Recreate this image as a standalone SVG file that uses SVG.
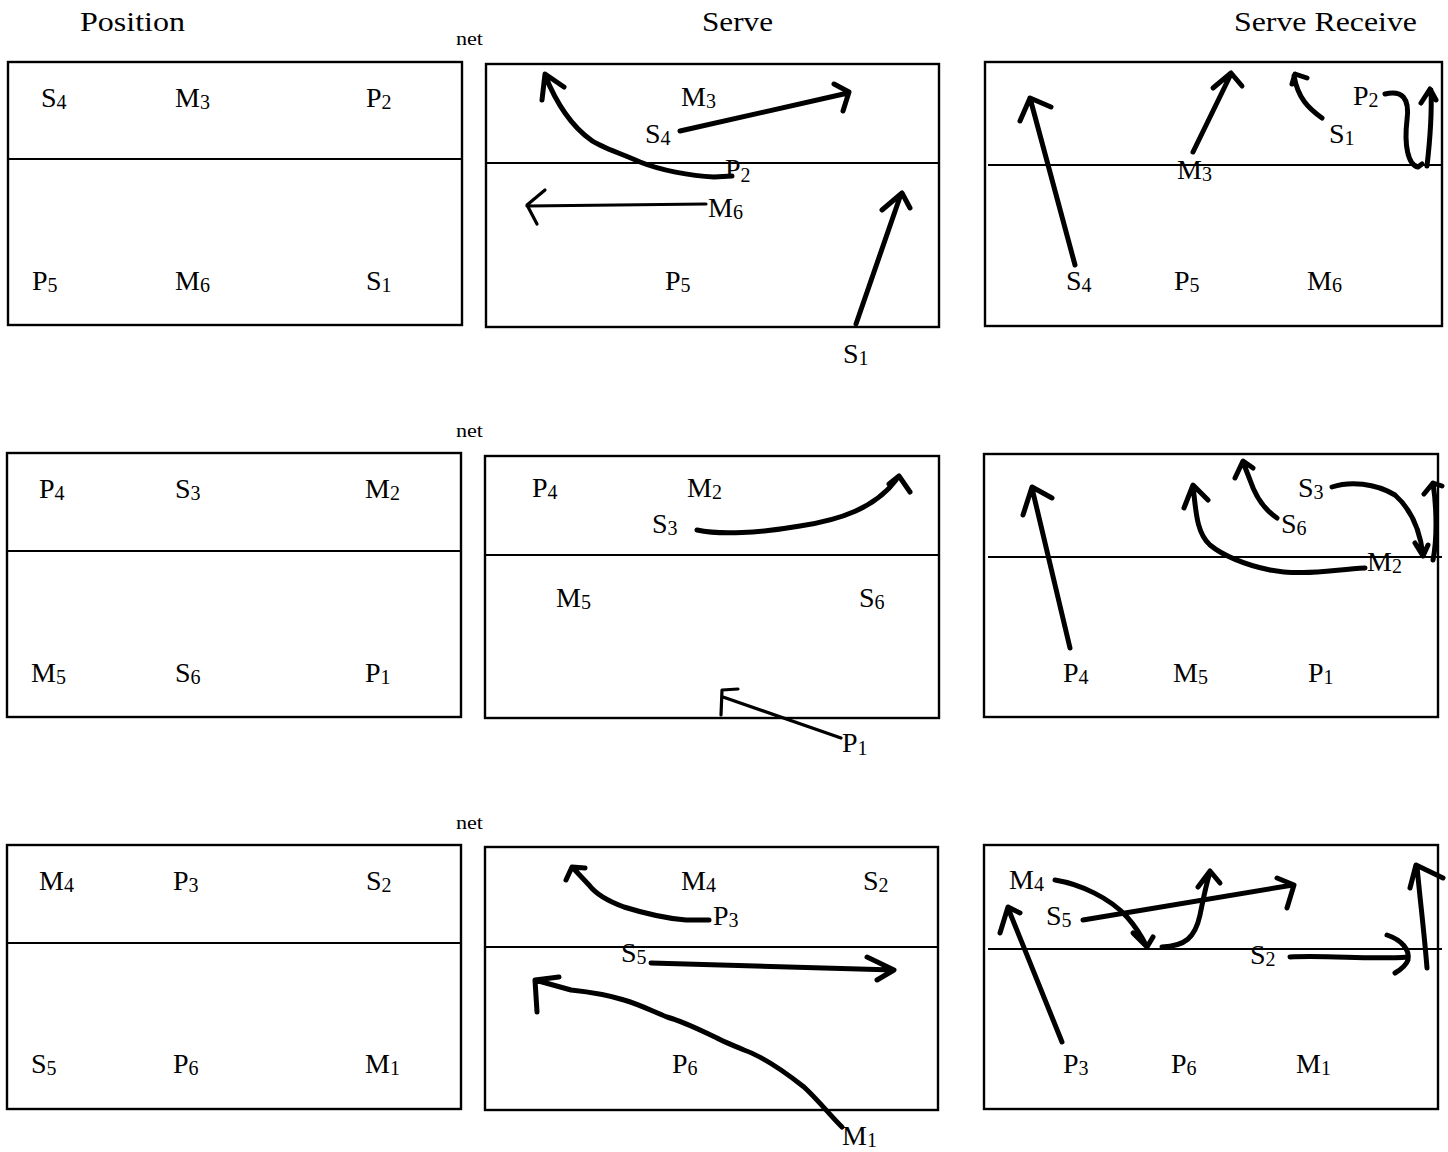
<svg xmlns="http://www.w3.org/2000/svg" width="1448" height="1152" viewBox="0 0 1448 1152">
<style>
.court{fill:none;stroke:#000;stroke-width:2.4}
.net{stroke:#000;stroke-width:2}
.t{font-family:"Liberation Serif","Times New Roman",serif;font-size:28px;fill:#000}
.sub{font-size:20px}
.title{font-family:"Liberation Serif","Times New Roman",serif;font-size:28px;fill:#000}
.nl{font-family:"Liberation Serif","Times New Roman",serif;font-size:19px;fill:#000}
.a{fill:none;stroke:#000;stroke-width:5;stroke-linecap:round;stroke-linejoin:round}
.a2{fill:none;stroke:#000;stroke-width:3.2;stroke-linecap:round;stroke-linejoin:round}
</style>
<rect width="1448" height="1152" fill="#fff"/>
<g id="titles">
<text class="title" x="80" y="31" textLength="105" lengthAdjust="spacingAndGlyphs">Position</text>
<text class="title" x="702" y="31" textLength="71" lengthAdjust="spacingAndGlyphs">Serve</text>
<text class="title" x="1234" y="31" textLength="183" lengthAdjust="spacingAndGlyphs">Serve Receive</text>
<text class="nl" x="456" y="45" textLength="27" lengthAdjust="spacingAndGlyphs">net</text>
<text class="nl" x="456" y="437" textLength="27" lengthAdjust="spacingAndGlyphs">net</text>
<text class="nl" x="456" y="829" textLength="27" lengthAdjust="spacingAndGlyphs">net</text>
</g>

<!-- Row 1 -->
<g id="pos1">
<rect class="court" x="8" y="62" width="454" height="263"/>
<line class="net" x1="8" y1="159" x2="462" y2="159"/>
<text class="t" x="41" y="107">S<tspan class="sub" dy="2">4</tspan></text>
<text class="t" x="175" y="107">M<tspan class="sub" dy="2">3</tspan></text>
<text class="t" x="366" y="107">P<tspan class="sub" dy="2">2</tspan></text>
<text class="t" x="32" y="290">P<tspan class="sub" dy="2">5</tspan></text>
<text class="t" x="175" y="290">M<tspan class="sub" dy="2">6</tspan></text>
<text class="t" x="366" y="290">S<tspan class="sub" dy="2">1</tspan></text>
</g>
<g id="serve1">
<rect class="court" x="486" y="64" width="453" height="263"/>
<line class="net" x1="486" y1="163" x2="939" y2="163"/>
<text class="t" x="681" y="106">M<tspan class="sub" dy="2">3</tspan></text>
<text class="t" x="645" y="143">S<tspan class="sub" dy="2">4</tspan></text>
<text class="t" x="725" y="178">P<tspan class="sub" dy="4">2</tspan></text>
<text class="t" x="708" y="217">M<tspan class="sub" dy="2">6</tspan></text>
<text class="t" x="665" y="290">P<tspan class="sub" dy="2">5</tspan></text>
<text class="t" x="843" y="363">S<tspan class="sub" dy="2">1</tspan></text>
</g>
<g id="recv1">
<rect class="court" x="985" y="62" width="457" height="264"/>
<line class="net" x1="988" y1="165" x2="1443" y2="165"/>
<text class="t" x="1353" y="105">P<tspan class="sub" dy="2">2</tspan></text>
<text class="t" x="1329" y="143">S<tspan class="sub" dy="2">1</tspan></text>
<text class="t" x="1177" y="179">M<tspan class="sub" dy="2">3</tspan></text>
<text class="t" x="1066" y="290">S<tspan class="sub" dy="2">4</tspan></text>
<text class="t" x="1174" y="290">P<tspan class="sub" dy="2">5</tspan></text>
<text class="t" x="1307" y="290">M<tspan class="sub" dy="2">6</tspan></text>
</g>

<!-- Row 2 -->
<g id="pos2">
<rect class="court" x="7" y="453" width="454" height="264"/>
<line class="net" x1="7" y1="551" x2="461" y2="551"/>
<text class="t" x="39" y="498">P<tspan class="sub" dy="2">4</tspan></text>
<text class="t" x="175" y="498">S<tspan class="sub" dy="2">3</tspan></text>
<text class="t" x="365" y="498">M<tspan class="sub" dy="2">2</tspan></text>
<text class="t" x="31" y="682">M<tspan class="sub" dy="2">5</tspan></text>
<text class="t" x="175" y="682">S<tspan class="sub" dy="2">6</tspan></text>
<text class="t" x="365" y="682">P<tspan class="sub" dy="2">1</tspan></text>
</g>
<g id="serve2">
<rect class="court" x="485" y="456" width="454" height="262"/>
<line class="net" x1="485" y1="555" x2="939" y2="555"/>
<text class="t" x="532" y="497">P<tspan class="sub" dy="2">4</tspan></text>
<text class="t" x="687" y="497">M<tspan class="sub" dy="2">2</tspan></text>
<text class="t" x="652" y="533">S<tspan class="sub" dy="2">3</tspan></text>
<text class="t" x="556" y="607">M<tspan class="sub" dy="2">5</tspan></text>
<text class="t" x="859" y="607">S<tspan class="sub" dy="2">6</tspan></text>
<text class="t" x="842" y="752">P<tspan class="sub" dy="3">1</tspan></text>
</g>
<g id="recv2">
<rect class="court" x="984" y="454" width="454" height="263"/>
<line class="net" x1="988" y1="557" x2="1442" y2="557"/>
<text class="t" x="1298" y="497">S<tspan class="sub" dy="2">3</tspan></text>
<text class="t" x="1281" y="533">S<tspan class="sub" dy="2">6</tspan></text>
<text class="t" x="1367" y="571">M<tspan class="sub" dy="2">2</tspan></text>
<text class="t" x="1063" y="682">P<tspan class="sub" dy="2">4</tspan></text>
<text class="t" x="1173" y="682">M<tspan class="sub" dy="2">5</tspan></text>
<text class="t" x="1308" y="682">P<tspan class="sub" dy="2">1</tspan></text>
</g>

<!-- Row 3 -->
<g id="pos3">
<rect class="court" x="7" y="845" width="454" height="264"/>
<line class="net" x1="7" y1="943" x2="461" y2="943"/>
<text class="t" x="39" y="890">M<tspan class="sub" dy="2">4</tspan></text>
<text class="t" x="173" y="890">P<tspan class="sub" dy="2">3</tspan></text>
<text class="t" x="366" y="890">S<tspan class="sub" dy="2">2</tspan></text>
<text class="t" x="31" y="1073">S<tspan class="sub" dy="2">5</tspan></text>
<text class="t" x="173" y="1073">P<tspan class="sub" dy="2">6</tspan></text>
<text class="t" x="365" y="1073">M<tspan class="sub" dy="2">1</tspan></text>
</g>
<g id="serve3">
<rect class="court" x="485" y="847" width="453" height="263"/>
<line class="net" x1="485" y1="947" x2="938" y2="947"/>
<text class="t" x="681" y="890">M<tspan class="sub" dy="2">4</tspan></text>
<text class="t" x="863" y="890">S<tspan class="sub" dy="2">2</tspan></text>
<text class="t" x="713" y="925">P<tspan class="sub" dy="2">3</tspan></text>
<text class="t" x="621" y="962">S<tspan class="sub" dy="2">5</tspan></text>
<text class="t" x="672" y="1073">P<tspan class="sub" dy="2">6</tspan></text>
<text class="t" x="842" y="1145">M<tspan class="sub" dy="2">1</tspan></text>
</g>
<g id="recv3">
<rect class="court" x="984" y="845" width="454" height="264"/>
<line class="net" x1="988" y1="949" x2="1442" y2="949"/>
<text class="t" x="1009" y="889">M<tspan class="sub" dy="2">4</tspan></text>
<text class="t" x="1046" y="925">S<tspan class="sub" dy="2">5</tspan></text>
<text class="t" x="1250" y="964">S<tspan class="sub" dy="2">2</tspan></text>
<text class="t" x="1063" y="1073">P<tspan class="sub" dy="2">3</tspan></text>
<text class="t" x="1171" y="1073">P<tspan class="sub" dy="2">6</tspan></text>
<text class="t" x="1296" y="1073">M<tspan class="sub" dy="2">1</tspan></text>
</g>

<g id="connectors">
<!-- serve 1 -->
<path class="a" d="M680,131 L848,93 M834,84 L849,92 L843,111"/>
<path class="a" d="M732,176 L714,177 C690,176 660,170 640,162 C620,153 600,147 591,140 C570,125 555,100 545,75 M542,100 L545,74 L564,87"/>
<path class="a2" d="M706,204 L527,206 M545,190 L527,205 L537,224"/>
<path class="a" d="M856,324 L901,194 M882,210 L902,193 L910,208"/>
<!-- receive 1 -->
<path class="a" d="M1075,265 L1030,98 M1020,121 L1030,98 L1051,107"/>
<path class="a" d="M1193,152 L1231,74 M1213,88 L1231,73 L1242,86"/>
<path class="a" d="M1322,118 C1308,108 1298,98 1294,76 M1292,84 L1295,74 L1307,78"/>
<path class="a" d="M1385,94 C1402,90 1410,98 1407,120 C1404,145 1408,165 1418,167 L1422,164"/>
<path class="a" d="M1427,166 C1430,140 1432,115 1431,90 M1421,103 L1430,89 L1436,100"/>
<!-- serve 2 -->
<path class="a" d="M697,530 C720,535 760,533 800,526 C840,520 875,508 896,480 M889,484 L899,476 L910,492"/>
<path class="a2" d="M841,738 L723,697 M738,689 L722,690 L721,715"/>
<!-- receive 2 -->
<path class="a" d="M1070,648 L1032,488 M1023,515 L1032,487 L1052,498"/>
<path class="a" d="M1365,568 C1330,570 1300,576 1270,570 C1245,565 1222,555 1210,545 C1196,532 1196,510 1193,486 M1184,508 L1193,485 L1208,500"/>
<path class="a" d="M1277,518 C1262,508 1255,495 1250,480 L1243,462 M1235,478 L1243,461 L1253,468"/>
<path class="a" d="M1332,487 C1350,481 1375,483 1395,495 C1412,510 1420,530 1423,555 M1415,543 L1423,556 L1428,545"/>
<path class="a" d="M1433,560 C1437,540 1437,510 1433,483 M1424,494 L1433,483 L1442,486"/>
<!-- serve 3 -->
<path class="a" d="M709,920 L686,920 C660,918 640,912 624,907 C605,900 595,893 589,885 L573,868 M566,880 L572,867 L585,868"/>
<path class="a" d="M651,963 L894,970 M867,957 L894,970 L877,980"/>
<path class="a" d="M842,1127 C830,1115 818,1100 804,1087 C785,1072 764,1057 744,1050 C730,1044 722,1041 717,1038 C700,1030 685,1022 667,1017 C650,1010 638,1004 624,1000 C605,994 590,992 571,990 L535,980 M537,1012 L535,980 L559,977"/>
<!-- receive 3 -->
<path class="a" d="M1062,1042 L1008,908 M1000,933 L1008,907 L1020,913"/>
<path class="a" d="M1055,880 C1080,884 1110,898 1127,917 C1136,927 1142,937 1147,947 M1133,933 L1147,947 L1153,937"/>
<path class="a" d="M1162,947 C1185,946 1195,938 1200,915 C1203,900 1206,885 1210,872 M1198,887 L1210,871 L1220,883"/>
<path class="a" d="M1083,920 L1293,885 M1277,878 L1294,885 L1287,908"/>
<path class="a" d="M1290,957 C1330,955 1370,960 1408,957 M1387,935 C1402,940 1410,950 1408,960 C1406,966 1400,970 1395,973"/>
<path class="a" d="M1427,968 C1424,930 1420,900 1417,866 M1410,888 L1416,865 L1443,878"/>
</g>
</svg>
